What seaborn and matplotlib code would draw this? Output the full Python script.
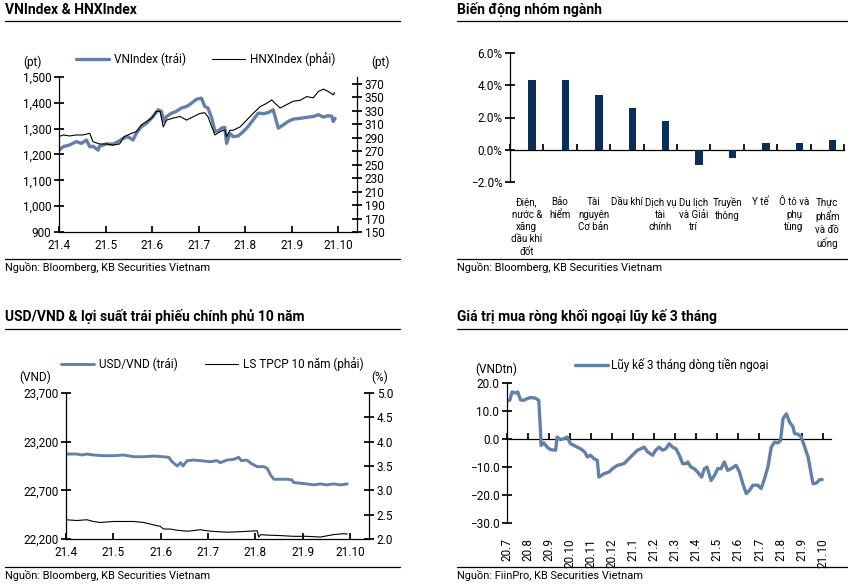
import numpy as np
import pandas as pd
import matplotlib
matplotlib.use('Agg')
import matplotlib.pyplot as plt
import matplotlib.ticker as mticker
from matplotlib.lines import Line2D
import seaborn as sns

# --- data (x = months since the first tick label) ---
month_labels = ['21.4', '21.5', '21.6', '21.7', '21.8', '21.9', '21.10']

vn_month = [0.00, 0.09, 0.23, 0.37, 0.48, 0.59, 0.66, 0.73, 0.84, 0.87, 1.02, 1.16, 1.27, 1.38,
            1.48, 1.59, 1.66, 1.77, 1.88, 2.02, 2.13, 2.20, 2.25, 2.31, 2.42, 2.52, 2.63, 2.74,
            2.85, 2.95, 3.06, 3.13, 3.20, 3.28, 3.35, 3.42, 3.49, 3.56, 3.60, 3.67, 3.74, 3.85,
            3.96, 4.06, 4.17, 4.28, 4.39, 4.49, 4.60, 4.66, 4.71, 4.82, 4.92, 5.03, 5.18, 5.32,
            5.46, 5.57, 5.68, 5.78, 5.86, 5.89, 5.93]
vn_value = [1217, 1230, 1237, 1250, 1243, 1256, 1230, 1232, 1217, 1232, 1241, 1240, 1250, 1263,
            1269, 1256, 1282, 1308, 1321, 1347, 1373, 1367, 1328, 1347, 1360, 1367, 1380, 1386,
            1399, 1414, 1418, 1386, 1380, 1341, 1289, 1292, 1302, 1305, 1243, 1282, 1269, 1272,
            1289, 1308, 1334, 1360, 1358, 1362, 1373, 1334, 1302, 1315, 1328, 1337, 1340, 1344,
            1347, 1354, 1345, 1350, 1348, 1328, 1340]

hnx_month = [0.00, 0.09, 0.23, 0.37, 0.52, 0.66, 0.73, 0.87, 1.02, 1.16, 1.30, 1.40, 1.56, 1.66,
             1.77, 1.88, 1.99, 2.09, 2.17, 2.24, 2.31, 2.45, 2.60, 2.74, 2.88, 3.03, 3.13, 3.20,
             3.28, 3.35, 3.46, 3.56, 3.60, 3.67, 3.74, 3.89, 4.03, 4.17, 4.32, 4.46, 4.57, 4.64,
             4.75, 4.89, 5.03, 5.18, 5.32, 5.46, 5.57, 5.68, 5.78, 5.89, 5.92]
hnx_value = [291.5, 294, 292.5, 294, 294, 296.5, 284, 280.6, 280.6, 279, 280.6, 291.5, 296.5, 299,
             309, 314, 319, 329, 329, 306, 316, 319, 321.5, 316, 321, 326, 327, 321,
             306, 294, 299, 301.5, 291.5, 301, 301, 306, 316, 326, 336, 341, 346, 341,
             334, 339, 344, 345.5, 351, 349, 358.5, 362, 358.5, 353.6, 357]

sectors = ['Điện,\nnước &\nxăng\ndầu khí\nđốt', 'Bảo\nhiểm', 'Tài\nnguyên\nCơ bản', 'Dầu khí',
           'Dịch vụ\ntài\nchính', 'Du lịch\nvà Giải\ntrí', 'Truyền\nthông', 'Y tế',
           'Ô tô và\nphụ\ntùng', 'Thực\nphẩm\nvà đồ\nuống']
sector_change = [4.35, 4.30, 3.42, 2.62, 1.77, -0.93, -0.54, 0.41, 0.41, 0.62]

usd_month = [0.00, 0.23, 0.34, 0.44, 0.58, 0.80, 1.01, 1.22, 1.43, 1.64, 1.85, 2.06, 2.17, 2.24,
             2.35, 2.42, 2.47, 2.56, 2.70, 2.84, 3.05, 3.19, 3.26, 3.40, 3.54, 3.65, 3.70, 3.82,
             3.93, 4.04, 4.18, 4.25, 4.32, 4.39, 4.53, 4.67, 4.77, 4.81, 4.95, 5.09, 5.23, 5.37,
             5.51, 5.65, 5.80, 5.94]
usd_value = [23073, 23073, 23063, 23073, 23063, 23056, 23056, 23063, 23045, 23045, 23052, 23045,
             23039, 22994, 22950, 22984, 22950, 23005, 23011, 23005, 22994, 23005, 22984, 23011,
             23018, 23039, 23005, 23011, 22970, 22943, 22943, 22926, 22858, 22814, 22814, 22814,
             22807, 22780, 22773, 22766, 22756, 22766, 22756, 22766, 22756, 22766]

bond_month = [0.00, 0.23, 0.44, 0.58, 0.72, 1.01, 1.43, 1.64, 1.85, 1.99, 2.06, 2.20, 2.35, 2.56,
              2.84, 3.05, 3.40, 3.68, 4.04, 4.07, 4.11, 4.25, 4.53, 4.81, 5.09, 5.37, 5.65, 5.87,
              5.94]
bond_value = [2.395, 2.38, 2.395, 2.36, 2.34, 2.36, 2.36, 2.34, 2.29, 2.26, 2.205, 2.205, 2.18,
              2.16, 2.19, 2.16, 2.14, 2.15, 2.17, 2.04, 2.09, 2.08, 2.07, 2.055, 2.055, 2.04,
              2.09, 2.11, 2.10]

flow_labels = ['20.7', '20.8', '20.9', '20.10', '20.11', '20.12', '21.1', '21.2', '21.3', '21.4',
               '21.5', '21.6', '21.7', '21.8', '21.9', '21.10']
flow_month = [0.00, 0.13, 0.24, 0.40, 0.51, 0.64, 0.79, 0.95, 1.11, 1.35, 1.51, 1.59, 1.62, 1.75,
              1.91, 2.07, 2.31, 2.38, 2.54, 2.70, 2.86, 3.02, 3.26, 3.50, 3.69, 3.82, 3.97, 4.13,
              4.29, 4.37, 4.61, 4.85, 5.01, 5.25, 5.56, 5.80, 6.04, 6.20, 6.36, 6.52, 6.68, 6.92,
              7.07, 7.23, 7.39, 7.55, 7.71, 7.87, 8.03, 8.19, 8.35, 8.51, 8.59, 8.74, 8.90, 9.06,
              9.25, 9.38, 9.51, 9.70, 9.86, 10.02, 10.17, 10.33, 10.49, 10.65, 10.89, 11.05, 11.21,
              11.37, 11.53, 11.69, 11.92, 12.08, 12.24, 12.40, 12.56, 12.72, 12.88, 13.00, 13.12,
              13.28, 13.43, 13.59, 13.67, 13.83, 13.99, 14.15, 14.31, 14.47, 14.55, 14.71, 14.86,
              14.98]
flow_value = [13.8, 13.8, 16.8, 16.4, 16.8, 14.0, 13.8, 14.4, 14.8, 14.6, 13.8, 3.1, -2.3, -1.4,
              -2.9, -3.8, -4.0, 0.7, -0.2, 0.1, 0.7, -1.7, -2.6, -3.5, -4.6, -6.4, -5.8, -7.0,
              -7.6, -13.6, -12.4, -11.8, -10.6, -9.4, -8.8, -7.0, -5.2, -4.0, -3.5, -2.9, -4.6, -5.8,
              -4.0, -2.9, -4.0, -3.5, -1.7, -2.9, -3.5, -5.8, -8.8, -8.8, -8.2, -10.0, -10.6, -11.8,
              -13.6, -10.6, -10.0, -14.8, -13.0, -10.6, -10.6, -8.2, -11.2, -10.6, -9.4, -11.8, -16.0,
              -19.5, -18.3, -16.5, -16.5, -17.7, -14.2, -10.0, -2.9, -1.1, -1.4, -0.5, 7.3,
              9.0, 6.0, 4.4, 1.9, 1.7, 0.7, -2.9, -6.4, -13.0, -16.0, -15.7, -14.5,
              -14.5]

BLUE = '#6380AA'
NAVY = '#0B2E57'

sns.set_theme(style='white')
plt.rcParams['font.family'] = ['Roboto', 'Noto Sans', 'DejaVu Sans']
plt.rcParams['text.color'] = 'black'
plt.rcParams['axes.edgecolor'] = 'black'
plt.rcParams['xtick.color'] = 'black'
plt.rcParams['ytick.color'] = 'black'
plt.rcParams['axes.linewidth'] = 0.9

W, H = 848, 584
fig = plt.figure(figsize=(W / 100, H / 100), dpi=100)
FS = 8.5      # ticks, legends, units
SRC = 7.9     # source line


def px_axes(left, top, right, bottom):
    return fig.add_axes([left / W, 1 - bottom / H, (right - left) / W, (bottom - top) / H])


def frame(x0, x1, title, title_y, rule_y, foot_y, source):
    fig.text(x0 / W, 1 - title_y / H, title, fontsize=10, fontweight='bold', va='center')
    fig.add_artist(Line2D([x0 / W, x1 / W], [1 - rule_y / H] * 2, color='black', lw=0.9))
    fig.add_artist(Line2D([x0 / W, x1 / W], [1 - foot_y / H] * 2, color='black', lw=0.9))
    fig.text(x0 / W, 1 - (foot_y + 8.5) / H, source, fontsize=SRC, va='center')


def ftext(x, y, s, **kw):
    fig.text(x / W, 1 - y / H, s, fontsize=FS, ha='center', va='center', **kw)


def dual_axes(ax, axr):
    ax.spines['top'].set_visible(False)
    ax.spines['right'].set_visible(False)
    for s in ['top', 'left', 'bottom']:
        axr.spines[s].set_visible(False)
    axr.spines['right'].set_visible(True)
    ax.tick_params(axis='y', left=True, direction='inout', length=7, labelsize=FS, pad=2)
    axr.tick_params(axis='y', right=True, direction='inout', length=7, labelsize=FS, pad=2)
    ax.tick_params(axis='x', bottom=True, direction='in', length=4, labelsize=FS, pad=5)
    ax.set_xlabel('')
    ax.set_ylabel('')
    axr.set_ylabel('')


def legend_at(ax, handles, labels, x, y, **kw):
    opts = dict(loc='center left', bbox_to_anchor=(x / W, 1 - y / H), bbox_transform=fig.transFigure,
                frameon=False, fontsize=FS, handlelength=2.8, handletextpad=0.42,
                borderpad=0, borderaxespad=0)
    opts.update(kw)
    ax.legend(handles=handles, labels=labels, **opts)


# ---------- panel 1: VNIndex & HNXIndex ----------
frame(5, 400, 'VNIndex & HNXIndex', 9.5, 21, 259, 'Nguồn: Bloomberg, KB Securities Vietnam')
ax1 = px_axes(59, 77, 357, 232)
sns.lineplot(x=vn_month, y=vn_value, ax=ax1, color=BLUE, lw=2.4, sort=False, estimator=None)
ax1r = ax1.twinx()
sns.lineplot(x=hnx_month, y=hnx_value, ax=ax1r, color='black', lw=0.8, sort=False, estimator=None)
ax1.set_xlim(0, 6.4)
ax1.set_ylim(900, 1500)
ax1.set_yticks(range(900, 1501, 100))
ax1.yaxis.set_major_formatter(mticker.StrMethodFormatter('{x:,.0f}'))
ax1r.set_ylim(150, 380)
ax1r.set_yticks(range(150, 371, 20))
ax1.set_xticks(range(len(month_labels)), month_labels)
dual_axes(ax1, ax1r)
legend_at(ax1, [ax1.lines[0], ax1r.lines[0]], ['VNIndex (trái)', 'HNXIndex (phải)'], 76, 59,
          ncol=2, columnspacing=2.2)
ftext(32, 62, '(pt)')
ftext(380, 62, '(pt)')

# ---------- panel 2: sector bars ----------
frame(457, 848, 'Biến động nhóm ngành', 9.5, 21, 259, 'Nguồn: Bloomberg, KB Securities Vietnam')
ax2 = px_axes(510, 53, 844, 182)
bars = pd.DataFrame({
    'sector': sectors * 2,
    'change': [0.0] * len(sectors) + sector_change,
    'series': [''] * len(sectors) + ['Biến động'] * len(sectors),
})
sns.barplot(data=bars, x='sector', y='change', hue='series', hue_order=['', 'Biến động'],
            palette=[NAVY, NAVY], saturation=1, width=0.64, gap=0.3, errorbar=None,
            legend=False, ax=ax2, linewidth=0)
ax2.set_ylim(-2, 6)
ax2.set_yticks([-2, 0, 2, 4, 6])
ax2.yaxis.set_major_formatter(mticker.StrMethodFormatter('{x:.1f}%'))
ax2.set_xlim(-0.5, len(sectors) - 0.5)
for s in ['top', 'right', 'bottom']:
    ax2.spines[s].set_visible(False)
ax2.tick_params(axis='y', left=True, direction='inout', length=7, labelsize=FS, pad=2)
ax2.tick_params(axis='x', bottom=False, labelsize=7.0, pad=5)
for lab in ax2.get_xticklabels():
    lab.set_linespacing(1.3)
ax2.set_xlabel('')
ax2.set_ylabel('')
zero2 = ax2.secondary_xaxis(0.25)
zero2.set_alignment('bottom')
zero2.set_xticks(np.arange(-0.5, len(sectors), 1))
zero2.tick_params(direction='in', length=4, labelbottom=False, bottom=True)

# ---------- panel 3: USD/VND & bond yield ----------
frame(5, 400, 'USD/VND & lợi suất trái phiếu chính phủ 10 năm', 316.5, 329, 567,
      'Nguồn: Bloomberg, KB Securities Vietnam')
ax3 = px_axes(66, 393, 369, 539)
sns.lineplot(x=usd_month, y=usd_value, ax=ax3, color=BLUE, lw=2.1, sort=False, estimator=None)
ax3r = ax3.twinx()
sns.lineplot(x=bond_month, y=bond_value, ax=ax3r, color='black', lw=0.8, sort=False, estimator=None)
ax3.set_xlim(0, 6.4)
ax3.set_ylim(22200, 23700)
ax3.set_yticks([22200, 22700, 23200, 23700])
ax3.yaxis.set_major_formatter(mticker.StrMethodFormatter('{x:,.0f}'))
ax3r.set_ylim(2.0, 5.0)
ax3r.set_yticks(np.arange(2.0, 5.01, 0.5))
ax3r.yaxis.set_major_formatter(mticker.StrMethodFormatter('{x:.1f}'))
ax3.set_xticks(range(len(month_labels)), month_labels)
dual_axes(ax3, ax3r)
legend_at(ax3, [ax3.lines[0], ax3r.lines[0]], ['USD/VND (trái)', 'LS TPCP 10 năm (phải)'], 61, 364.5,
          ncol=2, columnspacing=2.3)
ftext(35, 377, '(VND)')
ftext(380, 377, '(%)')

# ---------- panel 4: foreign net buying ----------
frame(457, 848, 'Giá trị mua ròng khối ngoại lũy kế 3 tháng', 317, 329, 567,
      'Nguồn: FiinPro, KB Securities Vietnam')
ax4 = px_axes(507, 383, 831, 523)
sns.lineplot(x=flow_month, y=flow_value, ax=ax4, color=BLUE, lw=2.4, sort=False, estimator=None)
ax4.set_xlim(0, 15.4)
ax4.set_ylim(-30, 20)
ax4.set_yticks(range(-30, 21, 10))
ax4.yaxis.set_major_formatter(mticker.StrMethodFormatter('{x:.1f}'))
ax4.set_xticks(range(len(flow_labels)), flow_labels, rotation=90)
for s in ['top', 'right', 'bottom']:
    ax4.spines[s].set_visible(False)
ax4.tick_params(axis='y', left=True, direction='inout', length=7, labelsize=FS, pad=2)
ax4.tick_params(axis='x', bottom=False, labelsize=FS, pad=5)
ax4.set_xlabel('')
ax4.set_ylabel('')
zero4 = ax4.secondary_xaxis(0.6)
zero4.set_alignment('bottom')
zero4.set_xticks(range(len(flow_labels)))
zero4.tick_params(direction='in', length=4, labelbottom=False, bottom=True)
legend_at(ax4, [ax4.lines[0]], ['Lũy kế 3 tháng dòng tiền ngoại'], 575, 365, handletextpad=0.25)
ftext(496, 369, '(VNDtn)')

fig.savefig('out.png', dpi=100)
